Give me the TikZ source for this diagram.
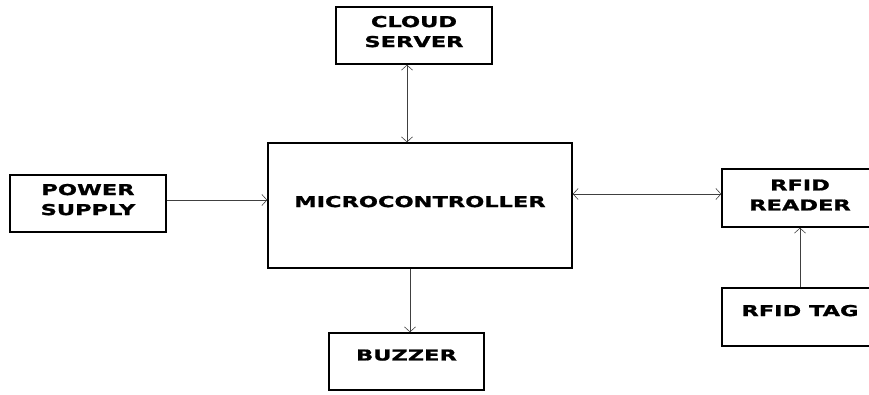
\documentclass[tikz,border=0pt]{standalone}
\usepackage{fontspec}
\newfontfamily\blockfont[FakeStretch=1.5,FakeBold=1.2]{DejaVu Sans}
\usetikzlibrary{arrows.meta}

\begin{document}
\begin{tikzpicture}[x=1pt,y=-1pt,>={Straight Barb[length=5pt,width=11pt]},
  block/.style={draw,line width=1.4pt,minimum width=156,minimum height=57,inner sep=0pt,
    align=center,text depth=8pt,font=\blockfont\bfseries\fontsize{15}{20}\selectfont},
  link/.style={draw=black!75,line width=0.6pt}]
  \useasboundingbox (0,0) rectangle (869,394);

  \node[block] (cloud) at (414,35.5) {CLOUD\\SERVER};
  \node[block,minimum width=304,minimum height=125] (mcu) at (420,205.5) {MICROCONTROLLER};
  \node[block] (power) at (88,203.5) {POWER\\SUPPLY};
  \node[block,minimum width=155,text depth=13pt] (buzzer) at (406.5,361.5) {BUZZER};
  \node[block,minimum height=58,text depth=6pt] (reader) at (800,198) {RFID\\READER};
  \node[block,minimum height=58,text depth=13pt] (tag) at (800,317) {RFID TAG};

  \coordinate (cs) at ([xshift=-7pt]cloud.south);
  \coordinate (ps) at ([yshift=3.5pt]power.east);
  \coordinate (rw) at ([yshift=4pt]reader.west);
  \coordinate (bn) at ([xshift=3.5pt]buzzer.north);

  \draw[link,<->] (cs) -- (cs |- mcu.north);
  \draw[link,->] (ps) -- (ps -| mcu.west);
  \draw[link,<->] (mcu.east |- rw) -- (rw);
  \draw[link,->] (mcu.south -| bn) -- (bn);
  \draw[link,->] (tag.north) -- (reader.south);
\end{tikzpicture}
\end{document}
